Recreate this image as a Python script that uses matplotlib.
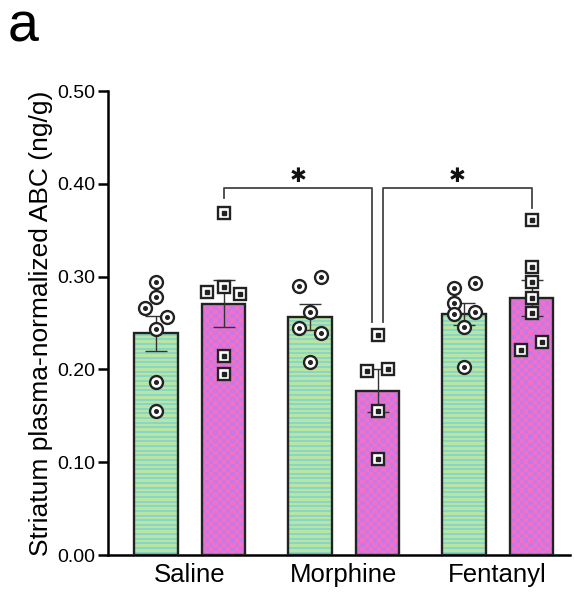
import numpy as np
import matplotlib.pyplot as plt
from matplotlib.colors import to_rgb

plt.rcParams['font.family'] = ['Liberation Sans', 'DejaVu Sans']

groups = ['Saline', 'Morphine', 'Fentanyl']
ctrl_mean = [0.239, 0.256, 0.260]
ctrl_sem = [0.019, 0.014, 0.012]
abc_mean = [0.271, 0.177, 0.277]
abc_sem = [0.025, 0.023, 0.019]

ctrl_pts = [
    [0.294, 0.278, 0.266, 0.256, 0.243, 0.186, 0.155],
    [0.300, 0.290, 0.262, 0.245, 0.239, 0.208],
    [0.293, 0.288, 0.272, 0.262, 0.260, 0.246, 0.203],
]
abc_pts = [
    [0.369, 0.289, 0.283, 0.281, 0.214, 0.195],
    [0.237, 0.200, 0.198, 0.155, 0.103],
    [0.361, 0.310, 0.294, 0.277, 0.261, 0.230, 0.221],
]
# horizontal scatter of the dots (layout only)
ctrl_jit = [
    [0, 0, -0.07, 0.07, 0, 0, 0],
    [0.07, -0.07, 0, -0.07, 0.07, 0],
    [0.07, -0.065, -0.065, 0.07, -0.065, 0, 0],
]
abc_jit = [
    [0, 0, -0.11, 0.11, 0, 0],
    [0, 0.07, -0.07, 0, 0],
    [0, 0, 0, 0, 0, 0.07, -0.07],
]

green, teal = '#b8e6a2', '#88d6c8'
pink, violet = '#f46fc6', '#c878e2'
edge = '#222222'

fig = plt.figure(figsize=(5.74, 5.94), dpi=100)
ax = fig.add_axes([108 / 574, 39 / 594, 462 / 574, 464 / 594])

x = np.arange(len(groups))
off, w = 0.22, 0.285
xlo, xhi = -0.53, 2.47

# checker pattern for the ABC bars
nx, ny = 110, 112
ii, jj = np.meshgrid(np.arange(nx), np.arange(ny))
checker = np.where(((ii + jj) % 2 == 0)[..., None],
                   np.array(to_rgb(pink)), np.array(to_rgb(violet)))

# control bars: green with teal horizontal stripes
bars = ax.bar(x - off, ctrl_mean, width=w, color=green, edgecolor='none', zorder=1)
ys = np.arange(0.0025, 0.5, 0.005)
for b in bars:
    hl = ax.hlines(ys, xlo, xhi, colors=teal, linewidth=1.4, zorder=1.5)
    hl.set_clip_path(b)
ax.bar(x - off, ctrl_mean, width=w, fill=False, edgecolor=edge, linewidth=1.7, zorder=3)

# ABC bars: checkered
bars = ax.bar(x + off, abc_mean, width=w, color='none', edgecolor='none', zorder=1)
for b in bars:
    im = ax.imshow(checker, extent=[xlo, xhi, 0, 0.5], aspect='auto',
                   interpolation='nearest', zorder=1.5)
    im.set_clip_path(b)
ax.bar(x + off, abc_mean, width=w, fill=False, edgecolor=edge, linewidth=1.7, zorder=3)

ax.errorbar(x - off, ctrl_mean, yerr=ctrl_sem, fmt='none', ecolor='#333333',
            elinewidth=1.0, capsize=8, capthick=1.0, zorder=4)
ax.errorbar(x + off, abc_mean, yerr=abc_sem, fmt='none', ecolor='#333333',
            elinewidth=1.0, capsize=8, capthick=1.0, zorder=4)

for i in range(len(groups)):
    cx = x[i] - off + np.array(ctrl_jit[i])
    ax.plot(cx, ctrl_pts[i], 'o', ms=9.3, mfc='white', mec=edge, mew=1.7, zorder=5)
    ax.plot(cx, ctrl_pts[i], 'o', ms=2.6, color=edge, zorder=6)
    px = x[i] + off + np.array(abc_jit[i])
    ax.plot(px, abc_pts[i], 's', ms=8.7, mfc='white', mec=edge, mew=1.7, zorder=5)
    ax.plot(px, abc_pts[i], 's', ms=2.4, color=edge, zorder=6)

# significance brackets
bk = '#444444'
top = 0.396
ax.plot([0 + off, 0 + off, 1 + off - 0.033, 1 + off - 0.033],
        [0.385, top, top, 0.251], color=bk, lw=1.3, zorder=2)
ax.plot([1 + off + 0.033, 1 + off + 0.033, 2 + off, 2 + off],
        [0.251, top, top, 0.374], color=bk, lw=1.3, zorder=2)
ax.text((off + 1 + off - 0.033) / 2, top + 0.002, '✱', ha='center', va='bottom',
        fontsize=14.5, family='DejaVu Sans', color='#111111')
ax.text((1 + off + 0.033 + 2 + off) / 2, top + 0.002, '✱', ha='center', va='bottom',
        fontsize=14.5, family='DejaVu Sans', color='#111111')

ax.set_xlim(xlo, xhi)
ax.set_ylim(0, 0.5)
ax.set_yticks(np.arange(0, 0.51, 0.1))
ax.set_yticklabels([f'{v:.2f}' for v in np.arange(0, 0.51, 0.1)], fontsize=14)
ax.set_xticks(x)
ax.set_xticklabels(groups, fontsize=18.5)
ax.tick_params(axis='x', length=0, pad=6)
ax.tick_params(axis='y', length=7, width=1.8, pad=2)
for s in ['top', 'right']:
    ax.spines[s].set_visible(False)
for s in ['left', 'bottom']:
    ax.spines[s].set_linewidth(1.8)
ax.set_ylabel('Striatum plasma-normalized ABC (ng/g)', fontsize=19, labelpad=3)

fig.text(8 / 574, 1 - 2 / 594, 'a', fontsize=40, ha='left', va='top')

fig.savefig('out.png', dpi=100)
